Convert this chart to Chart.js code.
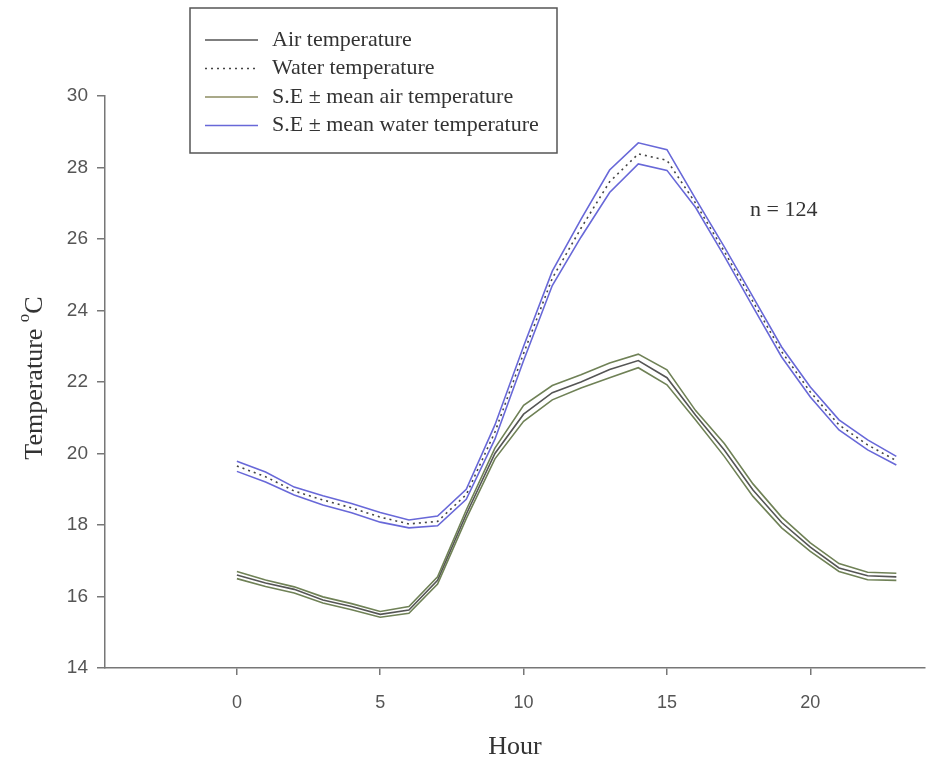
<!DOCTYPE html>
<html>
<head>
<meta charset="utf-8">
<script src="https://cdn.jsdelivr.net/npm/chart.js@4.4.1/dist/chart.umd.min.js"></script>
<style>
  body { margin: 0; background: #fff; }
  canvas { display: block; }
</style>
</head>
<body>
<canvas id="tempChart" width="928" height="767"></canvas>
<script>
// hours of day
const hours = [0, 1, 2, 3, 4, 5, 6, 7, 8, 9, 10, 11, 12, 13, 14, 15, 16, 17, 18, 19, 20, 21, 22, 23];

// mean air temperature and its S.E band
const airMean  = [16.6, 16.38, 16.2, 15.9, 15.72, 15.5, 15.62, 16.45, 18.3, 20.0, 21.1, 21.7, 22.0, 22.35, 22.6, 22.12, 21.07, 20.1, 18.98, 18.07, 17.38, 16.8, 16.58, 16.55];
const airUpper = [16.7, 16.46, 16.27, 15.99, 15.8, 15.58, 15.72, 16.55, 18.42, 20.15, 21.35, 21.9, 22.2, 22.53, 22.78, 22.34, 21.2, 20.28, 19.15, 18.22, 17.5, 16.92, 16.68, 16.65];
const airLower = [16.5, 16.28, 16.1, 15.82, 15.63, 15.42, 15.53, 16.35, 18.18, 19.85, 20.9, 21.5, 21.83, 22.12, 22.4, 21.92, 20.94, 19.92, 18.8, 17.92, 17.26, 16.7, 16.47, 16.45];

// mean water temperature and its S.E band
const waterMean  = [19.65, 19.35, 18.95, 18.7, 18.48, 18.22, 18.03, 18.1, 18.85, 20.6, 22.8, 24.9, 26.3, 27.6, 28.38, 28.2, 27.0, 25.65, 24.25, 22.85, 21.72, 20.8, 20.24, 19.8];
const waterUpper = [19.78, 19.48, 19.06, 18.82, 18.6, 18.35, 18.14, 18.25, 19.0, 20.8, 23.0, 25.1, 26.55, 27.93, 28.69, 28.5, 27.12, 25.78, 24.38, 22.98, 21.86, 20.94, 20.38, 19.92];
const waterLower = [19.5, 19.2, 18.84, 18.56, 18.34, 18.08, 17.92, 17.98, 18.72, 20.4, 22.6, 24.7, 26.05, 27.3, 28.1, 27.92, 26.88, 25.52, 24.1, 22.7, 21.58, 20.66, 20.1, 19.68];

const xTicks = [0, 5, 10, 15, 20];
const yTicks = [14, 16, 18, 20, 22, 24, 26, 28, 30];

const airSeColor = "#6f8156";
const waterSeColor = "#6868d8";

const pts = (arr) => hours.map((h, i) => ({ x: h, y: arr[i] }));

const serif = "'Liberation Serif', 'Times New Roman', serif";
const sans = "'Liberation Sans', Arial, sans-serif";

// legend box, y-axis title with superscript and the n label
const extras = {
  id: "extras",
  afterDraw(chart) {
    const ctx = chart.ctx;
    ctx.save();

    // legend
    ctx.strokeStyle = "#555";
    ctx.lineWidth = 1.5;
    ctx.strokeRect(190, 8, 367, 145);
    const rows = [
      { label: "Air temperature", color: "#555", dash: [] },
      { label: "Water temperature", color: "#444", dash: [2, 4] },
      { label: "S.E \u00b1 mean air temperature", color: "#8c8c62", dash: [] },
      { label: "S.E \u00b1 mean water temperature", color: waterSeColor, dash: [] }
    ];
    ctx.font = "22px " + serif;
    ctx.textBaseline = "middle";
    rows.forEach((r, i) => {
      const y = 40 + i * 28.5;
      ctx.beginPath();
      ctx.setLineDash(r.dash);
      ctx.strokeStyle = r.color;
      ctx.lineWidth = 1.5;
      ctx.moveTo(205, y);
      ctx.lineTo(258, y);
      ctx.stroke();
      ctx.setLineDash([]);
      ctx.fillStyle = "#333";
      ctx.fillText(r.label, 272, y);
    });

    // n label
    ctx.font = "22px " + serif;
    ctx.fillStyle = "#333";
    ctx.fillText("n = 124", 750, 210);

    // y axis title: Temperature °C with raised o
    ctx.translate(35, 378);
    ctx.rotate(-Math.PI / 2);
    ctx.font = "26px " + serif;
    const t1 = "Temperature ";
    const w1 = ctx.measureText(t1).width;
    ctx.font = "17px " + serif;
    const w2 = ctx.measureText("o").width;
    ctx.font = "26px " + serif;
    const w3 = ctx.measureText("C").width;
    let x = -(w1 + w2 + w3) / 2;
    ctx.textAlign = "left";
    ctx.fillStyle = "#333";
    ctx.fillText(t1, x, 0);
    x += w1;
    ctx.font = "17px " + serif;
    ctx.fillText("o", x, -10);
    x += w2;
    ctx.font = "26px " + serif;
    ctx.fillText("C", x, 0);

    ctx.restore();
  }
};

new Chart(document.getElementById("tempChart"), {
  type: "line",
  data: {
    datasets: [
      { label: "S.E \u00b1 mean water temperature", data: pts(waterUpper), borderColor: waterSeColor, borderWidth: 1.6 },
      { label: "S.E \u00b1 mean water temperature (lower)", data: pts(waterLower), borderColor: waterSeColor, borderWidth: 1.6 },
      { label: "Water temperature", data: pts(waterMean), borderColor: "#444", borderWidth: 1.6, borderDash: [2, 4] },
      { label: "S.E \u00b1 mean air temperature", data: pts(airUpper), borderColor: airSeColor, borderWidth: 1.6 },
      { label: "S.E \u00b1 mean air temperature (lower)", data: pts(airLower), borderColor: airSeColor, borderWidth: 1.6 },
      { label: "Air temperature", data: pts(airMean), borderColor: "#555", borderWidth: 1.6 }
    ]
  },
  options: {
    responsive: false,
    animation: false,
    elements: { point: { radius: 0 }, line: { tension: 0 } },
    layout: { padding: { top: 96, right: 3, left: 0, bottom: 0 } },
    plugins: { legend: { display: false }, tooltip: { enabled: false } },
    scales: {
      x: {
        type: "linear",
        min: -4.6,
        max: 24,
        afterBuildTicks: (s) => { s.ticks = xTicks.map((v) => ({ value: v })); },
        afterFit: (s) => { s.height = 99; },
        grid: { drawOnChartArea: false, tickLength: 7, color: "#777", lineWidth: 1.5 },
        border: { color: "#777", width: 1.5 },
        ticks: { color: "#555", font: { family: sans, size: 18 }, padding: 17 },
        title: { display: true, text: "Hour", color: "#333", font: { family: serif, size: 26 }, padding: { top: 4, bottom: 4 } }
      },
      y: {
        min: 14,
        max: 30,
        afterBuildTicks: (s) => { s.ticks = yTicks.map((v) => ({ value: v })); },
        afterFit: (s) => { s.width = 105; },
        grid: { drawOnChartArea: false, tickLength: 8, color: "#777", lineWidth: 1.5 },
        border: { color: "#777", width: 1.5 },
        ticks: { color: "#555", font: { family: sans, size: 19 }, padding: 9 }
      }
    }
  },
  plugins: [extras]
});
</script>
</body>
</html>
